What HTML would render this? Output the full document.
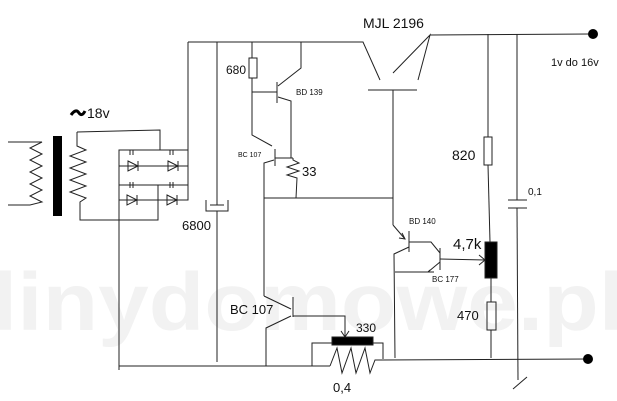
<!DOCTYPE html>
<html><head><style>
html,body{margin:0;padding:0;background:#fff;width:617px;height:401px;overflow:hidden}
svg{display:block}
text{font-family:"Liberation Sans",sans-serif;fill:#111}
</style></head><body>
<svg width="617" height="401" viewBox="0 0 617 401" xmlns="http://www.w3.org/2000/svg">
<text x="-8" y="330" font-size="82" font-weight="bold" textLength="632" lengthAdjust="spacingAndGlyphs" style="fill:#f2f2f2">linydomowe.pl</text>
<g stroke="#222" stroke-width="1" fill="none">
<!-- transformer -->
<polyline points="8,142 42,142 30,148 42,154 30,160 42,166 30,172 42,178 30,184 42,190 30,196 42,202 30,205 8,205"/>
<polyline points="77,132 77,146 86,150 70,156 86,162 70,168 86,174 70,180 86,186 70,192 86,198 80,202 80,220 158,220 158,185"/>
<polyline points="77,132 160,130 160,150"/>
<!-- bridge -->
<polyline points="119,370 119,150 188,150"/>
<polyline points="119,166 188,166"/>
<polyline points="119,185 188,185"/>
<polyline points="119,200 188,200 188,42"/>
<line x1="130" y1="150" x2="130" y2="155"/><line x1="133" y1="150" x2="133" y2="155"/>
<line x1="170" y1="150" x2="170" y2="155"/><line x1="173" y1="150" x2="173" y2="155"/>
<line x1="130" y1="182" x2="130" y2="188"/><line x1="133" y1="182" x2="133" y2="188"/>
<line x1="170" y1="182" x2="170" y2="188"/><line x1="173" y1="182" x2="173" y2="188"/>
<polygon points="128,161 138,166 128,171"/><line x1="138" y1="161" x2="138" y2="171"/>
<polygon points="168,161 178,166 168,171"/><line x1="178" y1="161" x2="178" y2="171"/>
<polygon points="127,195 137,200 127,205"/><line x1="137" y1="195" x2="137" y2="205"/>
<polygon points="167,195 177,200 167,205"/><line x1="177" y1="195" x2="177" y2="205"/>
<!-- top rail -->
<polyline points="188,42 363,42 380,80"/>
<!-- 6800 cap -->
<polyline points="217,42 217,205"/>
<line x1="210" y1="205" x2="224" y2="205"/>
<polyline points="206,200 206,211 228,211 228,200"/>
<line x1="217" y1="211" x2="217" y2="362"/>
<!-- 680 + BD139 -->
<line x1="252" y1="42" x2="252" y2="58"/>
<rect x="249" y="58" width="8" height="20"/>
<polyline points="252,78 252,135 272,146"/>
<line x1="252" y1="92" x2="277" y2="92"/>
<line x1="277" y1="82" x2="277" y2="103"/>
<polyline points="301,42 301,68 278,86"/>
<polyline points="278,97 291,101 291,158"/>
<!-- BC107 upper -->
<line x1="275" y1="149" x2="275" y2="166"/>
<line x1="275" y1="158" x2="293" y2="158"/>
<polyline points="274,160 264,163 264,198"/>
<polyline points="293,158 293,160 299,163 287,167 299,171 287,175 297,178 296,198"/>
<polyline points="264,198 393,198"/>
<!-- MJL -->
<line x1="368" y1="90" x2="417" y2="90"/>
<line x1="393" y1="90" x2="393" y2="225"/>
<polyline points="393,73 430,35 418,80"/>
<line x1="430" y1="35" x2="590" y2="34"/>
<line x1="264" y1="198" x2="264" y2="296"/>
<!-- right column -->
<line x1="488" y1="34" x2="488" y2="137"/>
<rect x="484" y="137" width="8" height="28"/>
<line x1="488" y1="165" x2="490" y2="242"/>
<rect x="485" y="242" width="12" height="36" fill="#000"/>
<line x1="491" y1="278" x2="491" y2="302"/>
<rect x="487" y="302" width="9" height="28"/>
<line x1="491" y1="330" x2="491" y2="358"/>
<line x1="517" y1="34" x2="517" y2="200"/>
<line x1="508" y1="200" x2="527" y2="200"/>
<line x1="508" y1="208" x2="527" y2="208"/>
<line x1="517" y1="208" x2="518" y2="380"/>
<line x1="513" y1="389" x2="527" y2="377"/>
<!-- BD140/BC177 -->
<polyline points="393,225 405,239"/>
<polyline points="399,238 405,239 402,233"/>
<line x1="409" y1="231" x2="409" y2="252"/>
<polyline points="409,247 394,254 395,358"/>
<polyline points="409,242 431,242 440,253"/>
<line x1="440" y1="248" x2="440" y2="270"/>
<polyline points="440,262 428,272 395,272"/>
<polyline points="430,270 428,272 434,272"/>
<line x1="440" y1="259" x2="485" y2="260"/>
<polyline points="479,255 485,260 479,265"/>
<!-- BC107 lower -->
<polyline points="264,296 291,309"/>
<line x1="293" y1="297" x2="293" y2="317"/>
<polyline points="293,316 345,316 345,337"/>
<polyline points="341,331 345,337 349,331"/>
<polyline points="291,316 266,328 266,366"/>
<!-- bottom rail -->
<polyline points="119,366 330,366"/>
<polyline points="312,366 312,343 332,343"/>
<rect x="332" y="337" width="41" height="8" fill="#000"/>
<polyline points="373,343 383,343 383,359"/>
<polyline points="330,366 337,348 342,373 351,348 356,373 365,348 370,373 375,360 590,359"/>
</g>
<rect x="53" y="136" width="9" height="80" fill="#000"/>
<circle cx="593" cy="34" r="5" fill="#000"/>
<circle cx="588" cy="359" r="5" fill="#000"/>
<path d="M71,115 Q76,108 79,113 Q82,117 85,111" stroke="#000" stroke-width="3" fill="none"/>
<text x="87" y="118" font-size="14">18v</text>
<text x="363" y="28" font-size="14">MJL 2196</text>
<text x="551" y="66" font-size="11">1v do 16v</text>
<text x="452" y="160" font-size="14">820</text>
<text x="528" y="195" font-size="10">0,1</text>
<text x="453" y="249" font-size="15">4,7k</text>
<text x="457" y="320" font-size="13">470</text>
<text x="409" y="224" font-size="8">BD 140</text>
<text x="432" y="282" font-size="8">BC 177</text>
<text x="356" y="332" font-size="12">330</text>
<text x="333" y="392" font-size="13">0,4</text>
<text x="230" y="314" font-size="13">BC 107</text>
<text x="182" y="230" font-size="13">6800</text>
<text x="226" y="74" font-size="12">680</text>
<text x="296" y="95" font-size="8">BD 139</text>
<text x="238" y="157" font-size="7">BC 107</text>
<text x="302" y="176" font-size="13">33</text>
</svg>
</body></html>
